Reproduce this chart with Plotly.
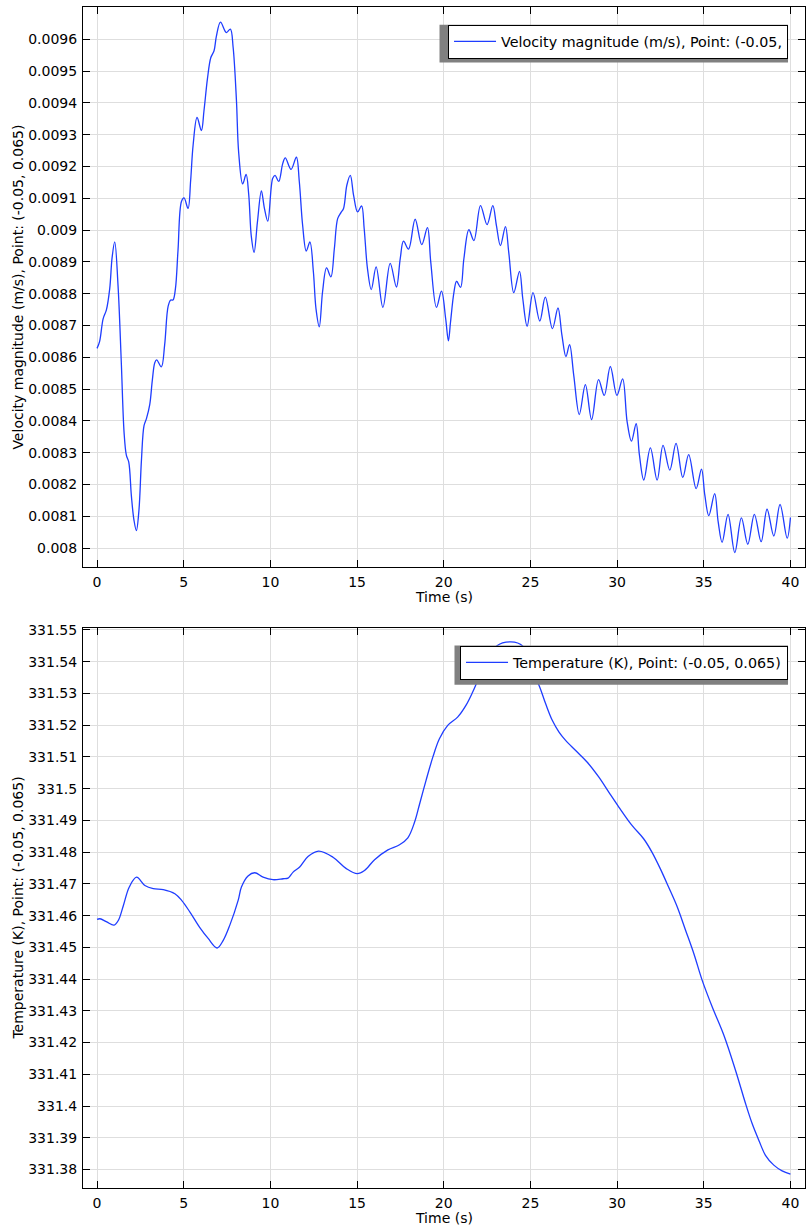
import plotly.graph_objects as go

# ---- data ----
vel_time = [0.00, 0.15, 0.35, 0.54, 0.73, 0.87, 1.02, 1.21, 1.40, 1.56, 1.69, 1.83, 1.98, 2.13, 2.27,
            2.42, 2.56, 2.71, 2.85, 3.04, 3.19, 3.33, 3.44, 3.71, 3.90, 4.10, 4.25, 4.38, 4.52, 4.67,
            4.87, 5.02, 5.25, 5.40, 5.54, 5.77, 6.02, 6.17, 6.37, 6.56, 6.75, 6.88, 7.12, 7.46, 7.69,
            7.85, 8.04, 8.17, 8.40, 8.60, 8.75, 8.90, 9.06, 9.25, 9.48, 9.65, 9.85, 10.13, 10.27, 10.48,
            10.71, 10.86, 11.19, 11.50, 11.67, 11.86, 12.07, 12.28, 12.48, 12.63, 12.82, 13.01, 13.24,
            13.49, 13.69, 13.88, 14.07, 14.22, 14.41, 14.61, 14.80, 15.03, 15.26, 15.41, 15.60, 15.82,
            16.10, 16.49, 16.91, 17.27, 17.49, 17.68, 17.97, 18.35, 18.73, 19.06, 19.25, 19.58, 19.87,
            20.11, 20.27, 20.39, 20.59, 20.74, 20.97, 21.16, 21.45, 21.74, 22.12, 22.50, 22.83, 23.04,
            23.27, 23.56, 23.75, 24.04, 24.37, 24.56, 24.81, 25.15, 25.54, 25.86, 26.27, 26.59, 26.82,
            27.05, 27.26, 27.50, 27.82, 28.17, 28.53, 28.93, 29.26, 29.61, 29.99, 30.32, 30.58, 30.83,
            31.10, 31.29, 31.54, 31.92, 32.31, 32.65, 33.04, 33.40, 33.79, 34.13, 34.56, 34.87, 35.06,
            35.29, 35.63, 35.83, 36.06, 36.40, 36.79, 37.17, 37.54, 37.92, 38.31, 38.65, 39.04, 39.40,
            39.81, 40.00]
vel_values = [0.008628, 0.008650, 0.008721, 0.008749, 0.008815, 0.008914, 0.008963, 0.008826, 0.008583,
              0.008363, 0.008292, 0.008270, 0.008165, 0.008088, 0.008055, 0.008121, 0.008275, 0.008385,
              0.008407, 0.008451, 0.008528, 0.008583, 0.008592, 0.008570, 0.008639, 0.008760, 0.008780,
              0.008780, 0.008815, 0.008936, 0.009090, 0.009101, 0.009068, 0.009156, 0.009266, 0.009354,
              0.009313, 0.009376, 0.009476, 0.009542, 0.009564, 0.009608, 0.009654, 0.009621, 0.009632,
              0.009575, 0.009410, 0.009244, 0.009145, 0.009175, 0.009112, 0.008980, 0.008930, 0.009024,
              0.009123, 0.009070, 0.009028, 0.009162, 0.009172, 0.009153, 0.009209, 0.009227, 0.009191,
              0.009229, 0.009151, 0.009015, 0.008934, 0.008963, 0.008869, 0.008753, 0.008696, 0.008806,
              0.008881, 0.008853, 0.008942, 0.009036, 0.009055, 0.009068, 0.009141, 0.009172, 0.009109,
              0.009057, 0.009076, 0.009005, 0.008879, 0.008813, 0.008884, 0.008757, 0.008895, 0.008821,
              0.008910, 0.008965, 0.008940, 0.009034, 0.008954, 0.009008, 0.008900, 0.008757, 0.008808,
              0.008722, 0.008652, 0.008710, 0.008805, 0.008839, 0.008820, 0.008909, 0.009001, 0.008967,
              0.009077, 0.009017, 0.009077, 0.009014, 0.008951, 0.009011, 0.008930, 0.008803, 0.008870,
              0.008784, 0.008698, 0.008803, 0.008714, 0.008789, 0.008690, 0.008755, 0.008669, 0.008602,
              0.008640, 0.008543, 0.008420, 0.008514, 0.008404, 0.008530, 0.008480, 0.008571, 0.008480,
              0.008532, 0.008397, 0.008336, 0.008391, 0.008292, 0.008214, 0.008315, 0.008214, 0.008323,
              0.008245, 0.008329, 0.008222, 0.008294, 0.008187, 0.008248, 0.008167, 0.008102, 0.008171,
              0.008083, 0.008018, 0.008106, 0.007986, 0.008095, 0.008012, 0.008106, 0.008020, 0.008122,
              0.008038, 0.008137, 0.008031, 0.008096]

temp_time = [0.00, 0.17, 0.56, 0.98, 1.23, 1.52, 1.86, 2.28, 2.76, 3.24, 3.82, 4.49, 4.88, 5.36, 5.93,
             6.41, 6.93, 7.28, 7.66, 8.14, 8.33, 8.71, 9.10, 9.58, 10.15, 10.73, 11.02, 11.31, 11.69,
             12.17, 12.78, 13.61, 14.38, 15.01, 15.43, 16.01, 16.78, 17.45, 17.93, 18.31, 18.60, 18.98,
             19.37, 19.75, 20.23, 20.80, 21.28, 21.67, 22.05, 22.60, 23.05, 23.87, 24.55, 25.05, 25.50,
             25.88, 26.26, 26.65, 27.03, 27.61, 28.28, 28.95, 29.52, 30.10, 30.86, 31.53, 32.01, 32.49,
             32.97, 33.45, 33.95, 34.43, 34.91, 35.49, 36.16, 36.83, 37.41, 37.79, 38.18, 38.56, 39.04,
             39.52, 40.00]
temp_values = [331.4588, 331.4590, 331.4580, 331.4570, 331.4585, 331.4632, 331.4690, 331.4721, 331.4695,
               331.4685, 331.4682, 331.4669, 331.4648, 331.4611, 331.4562, 331.4528, 331.4498, 331.4522,
               331.4570, 331.4648, 331.4690, 331.4725, 331.4735, 331.4721, 331.4713, 331.4716, 331.4718,
               331.4737, 331.4753, 331.4786, 331.4803, 331.4784, 331.4748, 331.4732, 331.4742, 331.4776,
               331.4807, 331.4823, 331.4845, 331.4893, 331.4950, 331.5026, 331.5099, 331.5157, 331.5199,
               331.5225, 331.5262, 331.5304, 331.5351, 331.5405, 331.5449, 331.5462, 331.5449, 331.5375,
               331.5325, 331.5267, 331.5215, 331.5178, 331.5152, 331.5120, 331.5083, 331.5036, 331.4989,
               331.4942, 331.4884, 331.4842, 331.4800, 331.4748, 331.4690, 331.4630, 331.4554, 331.4480,
               331.4396, 331.4312, 331.4223, 331.4113, 331.4008, 331.3945, 331.3892, 331.3845, 331.3814,
               331.3796, 331.3786]

time_ticks = [0, 5, 10, 15, 20, 25, 30, 35, 40]
vel_ticks = [0.0080, 0.0081, 0.0082, 0.0083, 0.0084, 0.0085, 0.0086, 0.0087, 0.0088,
             0.0089, 0.0090, 0.0091, 0.0092, 0.0093, 0.0094, 0.0095, 0.0096]
vel_labels = ['0.008', '0.0081', '0.0082', '0.0083', '0.0084', '0.0085', '0.0086', '0.0087', '0.0088',
              '0.0089', '0.009', '0.0091', '0.0092', '0.0093', '0.0094', '0.0095', '0.0096']
temp_ticks = [331.38, 331.39, 331.40, 331.41, 331.42, 331.43, 331.44, 331.45, 331.46,
              331.47, 331.48, 331.49, 331.50, 331.51, 331.52, 331.53, 331.54, 331.55]
temp_labels = ['331.38', '331.39', '331.4', '331.41', '331.42', '331.43', '331.44', '331.45', '331.46',
               '331.47', '331.48', '331.49', '331.5', '331.51', '331.52', '331.53', '331.54', '331.55']

vel_name = 'Velocity magnitude (m/s), Point: (-0.05,'
temp_name = 'Temperature (K), Point: (-0.05, 0.065)'
vel_title = 'Velocity magnitude (m/s), Point: (-0.05, 0.065)'
temp_title = 'Temperature (K), Point: (-0.05, 0.065)'

# ---- layout geometry (pixels) ----
W, H = 807, 1228
L, R, T, B = 83, 1, 5, 40
PW, PH = W - L - R, H - T - B
LINE_COLOR = '#1f3dff'


def px(x):
    return (x - L) / PW


def py(y):
    return (H - B - y) / PH


fig = go.Figure()
fig.add_trace(go.Scatter(x=vel_time, y=vel_values, mode='lines', name=vel_name,
                         line=dict(color=LINE_COLOR, width=1.3, shape='spline', smoothing=1.0),
                         xaxis='x', yaxis='y', legend='legend'))
fig.add_trace(go.Scatter(x=temp_time, y=temp_values, mode='lines', name=temp_name,
                         line=dict(color=LINE_COLOR, width=1.3, shape='spline', smoothing=1.0),
                         xaxis='x2', yaxis='y2', legend='legend2'))

axis_style = dict(showline=True, linecolor='black', linewidth=1, mirror='ticks',
                  ticks='inside', ticklen=7, tickcolor='black', tickwidth=1,
                  showgrid=True, gridcolor='#dedede', gridwidth=1, zeroline=False,
                  ticklabelstandoff=2, tickfont=dict(size=14, color='black'))

legend_style = dict(xanchor='right', yanchor='top', bgcolor='white', bordercolor='black',
                    borderwidth=1, itemwidth=42, font=dict(size=14.3))

fig.update_layout(
    width=W, height=H,
    margin=dict(l=L, r=R, t=T, b=B),
    paper_bgcolor='white', plot_bgcolor='white',
    font=dict(family='DejaVu Sans', size=14, color='black'),
    xaxis=dict(domain=[0, 1], anchor='y', range=[-0.81, 40.84], tickvals=time_ticks, **axis_style),
    yaxis=dict(domain=[py(566), 1], anchor='x', range=[0.0079403, 0.0097015],
               tickvals=vel_ticks, ticktext=vel_labels, **axis_style),
    xaxis2=dict(domain=[0, 1], anchor='y2', range=[-0.81, 40.84], tickvals=time_ticks, **axis_style),
    yaxis2=dict(domain=[0, py(627)], anchor='x2', range=[331.3742, 331.5506],
                tickvals=temp_ticks, ticktext=temp_labels, **axis_style),
    legend=dict(x=px(789), y=py(22.7), **legend_style),
    legend2=dict(x=px(789), y=py(644.7), **legend_style),
    showlegend=True,
)

# axis titles
for xa, ya, ytitle in [('x', 'y', vel_title), ('x2', 'y2', temp_title)]:
    fig.add_annotation(text='Time (s)', xref=xa + ' domain', yref=ya + ' domain', x=0.5, y=0,
                       xanchor='center', yanchor='top', yshift=-20, showarrow=False,
                       font=dict(size=14))
    fig.add_annotation(text=ytitle, xref='paper', yref=ya + ' domain', x=px(17.5), y=0.5,
                       xanchor='center', yanchor='middle', textangle=-90, showarrow=False,
                       font=dict(size=14))

# legend drop shadows
for (x0, x1, y0, y1) in [(440, 789, 22.7, 60.7), (455, 789, 644.7, 684)]:
    fig.add_shape(type='rect', xref='paper', yref='paper', x0=px(x0), x1=px(x1), y0=py(y1), y1=py(y0),
                  fillcolor='#808080', line=dict(width=0), layer='above')

fig.write_html('out.html', config={'displayModeBar': False},
               post_script="document.body.style.margin='0px';")
